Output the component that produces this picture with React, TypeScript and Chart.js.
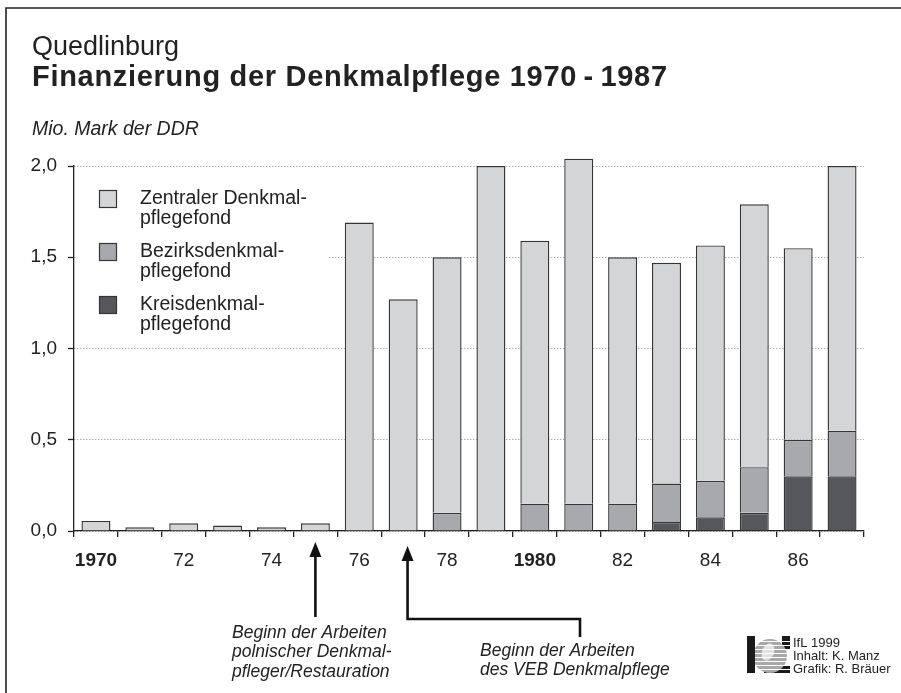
import React, { useEffect, useRef } from 'react';
import { Chart, registerables } from 'chart.js';

Chart.register(...registerables);

const FONT = '"Liberation Sans", Arial, Helvetica, sans-serif';

// ---- data ----
const years = ['1970', '1971', '1972', '1973', '1974', '1975', '1976', '1977', '1978', '1979', '1980', '1981', '1982', '1983', '1984', '1985', '1986', '1987'];
const xTickLabels = ['1970', '', '72', '', '74', '', '76', '', '78', '', '1980', '', '82', '', '84', '', '86', ''];
const boldTickLabels = ['1970', '1980'];
const kreisFond = [null, null, null, null, null, null, null, null, null, null, null, null, null, 0.05, 0.075, 0.1, 0.3, 0.3];
const bezirksFond = [null, null, null, null, null, null, null, null, 0.1, null, 0.15, 0.15, 0.15, 0.21, 0.2, 0.25, 0.2, 0.25];
const zentralerFond = [0.055, 0.02, 0.042, 0.03, 0.02, 0.042, 1.69, 1.27, 1.4, 2.0, 1.44, 1.89, 1.35, 1.21, 1.29, 1.44, 1.05, 1.45];
const seriesNames = ['Kreisdenkmalpflegefond', 'Bezirksdenkmalpflegefond', 'Zentraler Denkmalpflegefond'];
const legendLines = [
  ['Zentraler Denkmal-', 'pflegefond'],
  ['Bezirksdenkmal-', 'pflegefond'],
  ['Kreisdenkmal-', 'pflegefond'],
];
const yMin = 0;
const yMax = 2;
const yStep = 0.5;

const titleSmall = 'Quedlinburg';
const titleBig = 'Finanzierung der Denkmalpflege 1970\u2009-\u20091987';
const unitLabel = 'Mio. Mark der DDR';
const note1Lines = ['Beginn der Arbeiten', 'polnischer Denkmal-', 'pfleger/Restauration'];
const note2Lines = ['Beginn der Arbeiten', 'des VEB Denkmalpflege'];
const note1Year = '1975';
const note2Year = '1977';
const creditLines = ['IfL 1999', 'Inhalt: K. Manz', 'Grafik: R. Bräuer'];

// ---- styles ----
const C_ZENTRAL = '#d4d5d7';
const C_BEZIRK = '#a8a9ac';
const C_KREIS = '#56575b';
const C_TEXT = '#222222';
const C_EDGE = '#353535';

const decorPlugin = {
  id: 'decor',
  beforeDatasetsDraw(chart: any) {
    const ctx = chart.ctx as CanvasRenderingContext2D;
    ctx.save();
    // legend box (white background hides grid lines)
    ctx.fillStyle = '#ffffff';
    ctx.fillRect(76, 174, 252, 166);
    const colors = [C_ZENTRAL, C_BEZIRK, C_KREIS];
    const tops = [190, 243, 296];
    legendLines.forEach((lines, i) => {
      ctx.fillStyle = colors[i];
      ctx.fillRect(99.5, tops[i] + 0.5, 17, 17);
      ctx.strokeStyle = C_EDGE;
      ctx.lineWidth = 1.2;
      ctx.strokeRect(99.5, tops[i] + 0.5, 17, 17);
      ctx.fillStyle = C_TEXT;
      ctx.font = `19.5px ${FONT}`;
      ctx.textAlign = 'left';
      ctx.textBaseline = 'middle';
      lines.forEach((l, j) => ctx.fillText(l, 140, tops[i] + 9 + j * 20));
    });
    ctx.restore();
  },
  afterDraw(chart: any) {
    const ctx = chart.ctx as CanvasRenderingContext2D;
    const xs = chart.scales.x;
    ctx.save();
    // frame
    ctx.strokeStyle = C_TEXT;
    ctx.lineWidth = 1.6;
    ctx.beginPath();
    ctx.moveTo(6, 693);
    ctx.lineTo(6, 8);
    ctx.lineTo(901, 8);
    ctx.stroke();

    // titles
    ctx.fillStyle = C_TEXT;
    ctx.textAlign = 'left';
    ctx.textBaseline = 'alphabetic';
    ctx.font = `27px ${FONT}`;
    ctx.fillText(titleSmall, 32, 55);
    ctx.font = `bold 29px ${FONT}`;
    (ctx as any).letterSpacing = '0.7px';
    ctx.fillText(titleBig, 32, 86);
    (ctx as any).letterSpacing = '0px';
    ctx.font = `italic 19.5px ${FONT}`;
    ctx.fillText(unitLabel, 32, 135);

    // arrows
    ctx.strokeStyle = '#111';
    ctx.fillStyle = '#111';
    ctx.lineWidth = 2.6;
    const a1 = xs.getPixelForValue(years.indexOf(note1Year));
    ctx.beginPath();
    ctx.moveTo(a1, 554);
    ctx.lineTo(a1, 617);
    ctx.stroke();
    ctx.beginPath();
    ctx.moveTo(a1, 542);
    ctx.lineTo(a1 - 6, 557);
    ctx.lineTo(a1 + 6, 557);
    ctx.closePath();
    ctx.fill();

    const a2 = xs.getPixelForValue(years.indexOf(note2Year) + 0.1);
    ctx.beginPath();
    ctx.moveTo(a2, 558);
    ctx.lineTo(a2, 619);
    ctx.lineTo(580, 619);
    ctx.lineTo(580, 637);
    ctx.stroke();
    ctx.beginPath();
    ctx.moveTo(a2, 546);
    ctx.lineTo(a2 - 6, 561);
    ctx.lineTo(a2 + 6, 561);
    ctx.closePath();
    ctx.fill();

    // notes
    ctx.fillStyle = C_TEXT;
    ctx.font = `italic 17.5px ${FONT}`;
    ctx.textBaseline = 'middle';
    note1Lines.forEach((l, j) => ctx.fillText(l, 232, 633 + j * 19.5));
    note2Lines.forEach((l, j) => ctx.fillText(l, 480, 651 + j * 19.5));

    // logo
    ctx.fillStyle = '#1a1a1a';
    ctx.fillRect(747, 636, 8, 37);
    ctx.save();
    ctx.beginPath();
    ctx.rect(755, 636, 35, 37);
    ctx.clip();
    ctx.fillStyle = '#1a1a1a';
    ctx.fillRect(782, 636, 8, 14);
    ctx.fillRect(764, 666, 26, 7);
    ctx.fillStyle = '#a8a8a8';
    ctx.beginPath();
    ctx.arc(770, 656, 17, 0, Math.PI * 2);
    ctx.fill();
    ctx.fillStyle = '#e2e2e2';
    ctx.beginPath();
    ctx.ellipse(768, 652, 6, 9, 0.4, 0, Math.PI * 2);
    ctx.fill();
    ctx.strokeStyle = '#ffffff';
    ctx.lineWidth = 1;
    for (let y = 641; y < 672; y += 4) {
      ctx.beginPath();
      ctx.moveTo(755, y + 0.5);
      ctx.lineTo(790, y + 0.5);
      ctx.stroke();
    }
    ctx.restore();
    ctx.fillStyle = C_TEXT;
    ctx.font = `13px ${FONT}`;
    ctx.textBaseline = 'middle';
    creditLines.forEach((l, j) => ctx.fillText(l, 793, 643 + j * 13));

    ctx.restore();
  },
};

export default function App() {
  const ref = useRef<HTMLCanvasElement | null>(null);
  useEffect(() => {
    if (!ref.current) return;
    const common = {
      borderColor: C_EDGE,
      borderWidth: 1.4,
      barPercentage: 0.66,
      categoryPercentage: 1,
      clip: false as any,
    };
    const chart = new Chart(ref.current, {
      type: 'bar',
      data: {
        labels: years,
        datasets: [
          { label: seriesNames[0], data: kreisFond, backgroundColor: C_KREIS, ...common },
          { label: seriesNames[1], data: bezirksFond, backgroundColor: C_BEZIRK, ...common },
          { label: seriesNames[2], data: zentralerFond, backgroundColor: C_ZENTRAL, ...common },
        ] as any,
      },
      options: {
        responsive: false,
        animation: false,
        devicePixelRatio: 1,
        layout: { padding: { left: 0, top: 166, right: 37, bottom: 0 } },
        plugins: { legend: { display: false }, tooltip: { enabled: false }, title: { display: false } },
        scales: {
          x: {
            stacked: true,
            afterFit: (s: any) => { s.height = 162; },
            grid: {
              display: true,
              drawOnChartArea: false,
              drawTicks: true,
              tickLength: 6,
              offset: true,
              color: C_TEXT,
              lineWidth: 1.3,
            },
            border: { display: true, color: C_TEXT, width: 1.3 },
            ticks: {
              autoSkip: false,
              maxRotation: 0,
              minRotation: 0,
              padding: 12,
              color: C_TEXT,
              callback: (_v: any, i: number) => xTickLabels[i],
              font: (c: any) => ({
                family: FONT,
                size: 19,
                weight: boldTickLabels.includes(xTickLabels[c.index]) ? 'bold' : 'normal',
              }),
            },
          },
          y: {
            stacked: true,
            min: yMin,
            max: yMax,
            afterFit: (s: any) => { s.width = 74; },
            grid: {
              color: '#8a8a8a',
              lineWidth: 1,
              drawTicks: true,
              tickLength: 6,
              tickColor: C_TEXT,
              tickWidth: 1.3,
              tickBorderDash: [],
            } as any,
            border: { display: true, color: C_TEXT, width: 1.3, dash: [1, 2] },
            ticks: {
              stepSize: yStep,
              padding: 11,
              color: C_TEXT,
              font: { family: FONT, size: 19 },
              callback: (v: any) => Number(v).toFixed(1).replace('.', ','),
            },
          },
        },
      },
      plugins: [decorPlugin],
    });
    return () => chart.destroy();
  }, []);
  return (
    <div style={{ position: 'fixed', left: 0, top: 0, width: 901, height: 693, background: '#fff' }}>
      <canvas ref={ref} width={901} height={693} style={{ display: 'block' }} />
    </div>
  );
}
